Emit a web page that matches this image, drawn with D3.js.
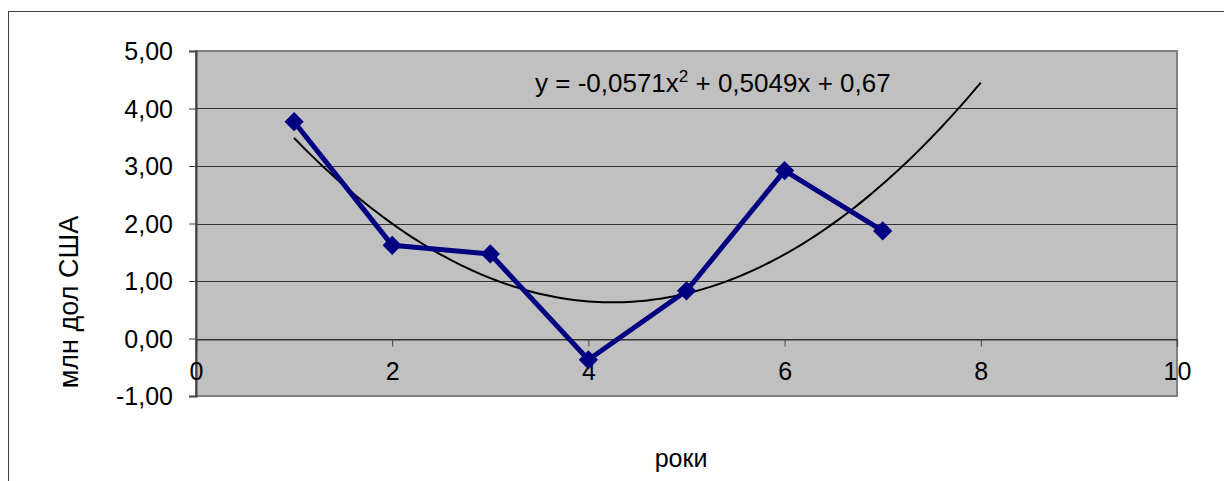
<!DOCTYPE html>
<html>
<head>
<meta charset="utf-8">
<script src="https://cdn.jsdelivr.net/npm/d3@7"></script>
<style>
    body { margin: 0; background: #fff; }
    svg text { font-family: "Liberation Sans", Arial, sans-serif; fill: #000; }
</style>
</head>
<body>
<div id="chart"></div>
<script>

    // Data
    var years = [1, 2, 3, 4, 5, 6, 7];
    var values = [3.77, 1.62, 1.47, -0.37, 0.83, 2.92, 1.87];
    var yTicks = [-1, 0, 1, 2, 3, 4, 5];
    var xTicks = [0, 2, 4, 6, 8, 10];
    var equationParts = ["y = -0,0571x", "2", " + 0,5049x + 0,67"];
    var yTitle = "млн дол США";
    var xTitle = "роки";
    var trendForward = 1;

    // Dimensions
    var width = 1224;
    var height = 481;
    var plot = { left: 196, top: 51, right: 1177, bottom: 396 };

    var locale = d3.formatLocale({ decimal: ",", thousands: " ", grouping: [3], currency: ["", ""], minus: "-" });
    var fmt = locale.format(".2f");

    var svg = d3.select("#chart").append("svg")
        .attr("width", width)
        .attr("height", height);

    //Outer chart border
    svg.append("rect")
        .attr("x", 8.5)
        .attr("y", 11.5)
        .attr("width", width)
        .attr("height", height)
        .attr("fill", "#fff")
        .attr("stroke", "#404040")
        .attr("stroke-width", 1);

    var x = d3.scaleLinear().domain([0, 10]).range([plot.left, plot.right]);
    var y = d3.scaleLinear().domain([-1, 5]).range([plot.bottom, plot.top]);

    //Plot area
    svg.append("rect")
        .attr("x", plot.left)
        .attr("y", plot.top)
        .attr("width", plot.right - plot.left)
        .attr("height", plot.bottom - plot.top)
        .attr("fill", "#c0c0c0")
        .attr("stroke", "#808080")
        .attr("stroke-width", 2);

    //Gridlines
    svg.append("g")
        .attr("class", "grid")
        .selectAll("line")
        .data(yTicks.filter(function(d) { return d > -1 && d < 5; }))
        .enter()
        .append("line")
        .attr("x1", plot.left)
        .attr("x2", plot.right)
        .attr("y1", function(d) { return Math.round(y(d)) + 0.5; })
        .attr("y2", function(d) { return Math.round(y(d)) + 0.5; })
        .attr("stroke", "#333")
        .attr("stroke-width", 1.2);

    //Y axis
    var yAxis = svg.append("g")
        .attr("transform", "translate(" + plot.left + ",0)")
        .call(d3.axisLeft(y).tickValues(yTicks).tickSize(7).tickPadding(16).tickFormat(fmt));
    yAxis.select(".domain").attr("stroke", "#404040").attr("stroke-width", 2);
    yAxis.selectAll(".tick line").attr("stroke", "#404040");
    yAxis.selectAll("text")
        .attr("font-size", 25)
        .attr("dy", "0.34em")
        .style("font-family", "Liberation Sans, Arial, sans-serif");

    //X axis at zero
    var xAxis = svg.append("g")
        .attr("transform", "translate(0," + (Math.round(y(0)) + 0.5) + ")")
        .call(d3.axisBottom(x).tickValues(xTicks).tickSize(7).tickFormat(d3.format("d")));
    xAxis.select(".domain").attr("stroke", "#333").attr("stroke-width", 1.2);
    xAxis.selectAll(".tick line").attr("stroke", "#404040");
    xAxis.selectAll("text")
        .attr("font-size", 25)
        .attr("y", 40)
        .attr("dy", 0)
        .style("font-family", "Liberation Sans, Arial, sans-serif");

    // Least squares quadratic trend
    var n = years.length;
    var s = { x: 0, x2: 0, x3: 0, x4: 0, y: 0, xy: 0, x2y: 0 };
    years.forEach(function(xi, i) {
        var yi = values[i];
        s.x += xi; s.x2 += xi * xi; s.x3 += xi * xi * xi; s.x4 += xi * xi * xi * xi;
        s.y += yi; s.xy += xi * yi; s.x2y += xi * xi * yi;
    });
    function det3(m) {
        return m[0][0] * (m[1][1] * m[2][2] - m[1][2] * m[2][1])
             - m[0][1] * (m[1][0] * m[2][2] - m[1][2] * m[2][0])
             + m[0][2] * (m[1][0] * m[2][1] - m[1][1] * m[2][0]);
    }
    var A = [[n, s.x, s.x2], [s.x, s.x2, s.x3], [s.x2, s.x3, s.x4]];
    var B = [s.y, s.xy, s.x2y];
    var D = det3(A);
    var coef = [0, 1, 2].map(function(k) {
        var M = A.map(function(row, r) {
            return row.map(function(v, c) { return c === k ? B[r] : v; });
        });
        return det3(M) / D;
    });
    var xEnd = years[n - 1] + trendForward;
    var trendData = d3.range(years[0], xEnd + 0.001, 0.05).map(function(t) {
        return [t, coef[0] + coef[1] * t + coef[2] * t * t];
    });

    svg.append("path")
        .datum(trendData)
        .attr("fill", "none")
        .attr("stroke", "#000")
        .attr("stroke-width", 2)
        .attr("d", d3.line()
            .x(function(d) { return x(d[0]); })
            .y(function(d) { return y(d[1]); }));

    //Data series
    var series = years.map(function(d, i) { return [d, values[i]]; });

    svg.append("path")
        .datum(series)
        .attr("fill", "none")
        .attr("stroke", "#000080")
        .attr("stroke-width", 5)
        .attr("stroke-linejoin", "round")
        .attr("d", d3.line()
            .x(function(d) { return x(d[0]); })
            .y(function(d) { return y(d[1]); }));

    svg.append("g")
        .attr("class", "markers")
        .selectAll("path")
        .data(series)
        .enter()
        .append("path")
        .attr("d", d3.symbol().type(d3.symbolSquare).size(185))
        .attr("fill", "#000080")
        .attr("transform", function(d) {
            return "translate(" + x(d[0]) + "," + y(d[1]) + ") rotate(45)";
        });

    //Equation label
    var eq = svg.append("text")
        .attr("x", 535)
        .attr("y", 92)
        .attr("font-size", 26);
    eq.append("tspan").text(equationParts[0]);
    eq.append("tspan").attr("font-size", 17).attr("dy", -10).text(equationParts[1]);
    eq.append("tspan").attr("dy", 10).text(equationParts[2]);

    //Axis titles
    svg.append("text")
        .attr("transform", "translate(78,302) rotate(-90)")
        .attr("text-anchor", "middle")
        .attr("font-size", 27)
        .text(yTitle);

    svg.append("text")
        .attr("x", 681)
        .attr("y", 467)
        .attr("text-anchor", "middle")
        .attr("font-size", 25)
        .text(xTitle);

</script>
</body>
</html>
